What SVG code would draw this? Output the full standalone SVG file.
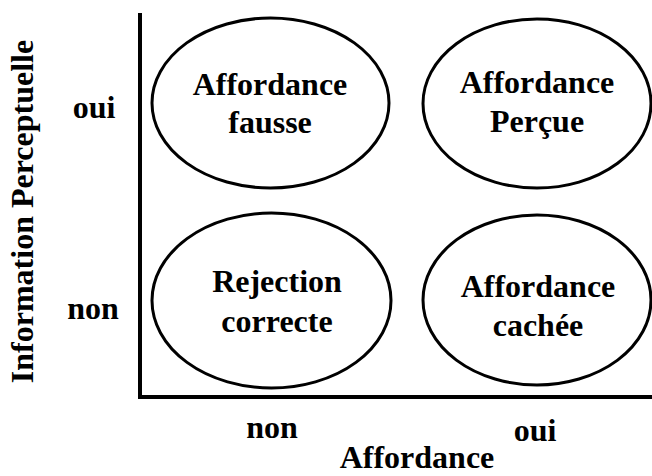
<svg xmlns="http://www.w3.org/2000/svg" width="652" height="476" viewBox="0 0 652 476">
<style>
  text { font-family: "Liberation Serif", "Times New Roman", serif; font-weight: bold; font-size: 32px; fill: #000; text-anchor: middle; }
  .node ellipse { fill: none; stroke: #000; stroke-width: 3; }
  .axis { stroke: #000; stroke-width: 4; fill: none; }
</style>
<rect width="652" height="476" fill="#fff"/>
<g id="axes">
  <path class="axis" d="M140 13 V399 M138 397 H652"/>
</g>
<g id="labels">
  <text x="94" y="118">oui</text>
  <text x="93" y="319">non</text>
  <text x="272" y="438">non</text>
  <text x="535" y="441">oui</text>
  <text x="417" y="468">Affordance</text>
  <text transform="translate(33 211.5) rotate(-90)">Information Perceptuelle</text>
</g>
<g id="node-affordance-fausse" class="node">
  <ellipse cx="270.5" cy="103" rx="118.5" ry="85"/>
  <text x="270" y="95">Affordance</text>
  <text x="270" y="133">fausse</text>
</g>
<g id="node-affordance-percue" class="node">
  <ellipse cx="537" cy="103.5" rx="114" ry="84.5"/>
  <text x="537" y="93">Affordance</text>
  <text x="537" y="132">Perçue</text>
</g>
<g id="node-rejection-correcte" class="node">
  <ellipse cx="271.5" cy="300.5" rx="119.5" ry="87.5"/>
  <text x="277" y="292">Rejection</text>
  <text x="277" y="332">correcte</text>
</g>
<g id="node-affordance-cachee" class="node">
  <ellipse cx="537" cy="300" rx="114" ry="85"/>
  <text x="538" y="297">Affordance</text>
  <text x="538" y="336">cachée</text>
</g>
<g id="connectors"></g>
</svg>
